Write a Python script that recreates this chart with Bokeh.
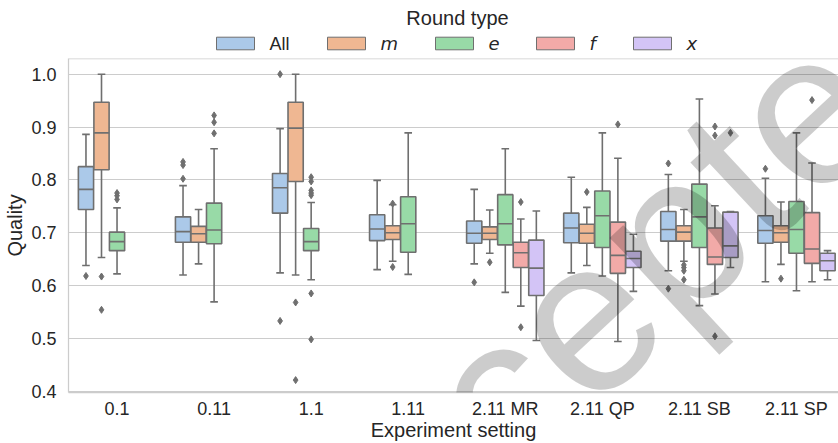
from bokeh.plotting import figure
from bokeh.layouts import column
from bokeh.models import Range1d, FixedTicker, Span, Label, ColumnDataSource, PrintfTickFormatter
from bokeh.core.properties import value
from bokeh.embed import file_html
from bokeh.resources import INLINE

# ---------------- data ----------------
categories = ["0.1", "0.11", "1.1", "1.11", "2.11 MR", "2.11 QP", "2.11 SB", "2.11 SP"]
round_types = ["All", "m", "e", "f", "x"]
N = None

whisker_low = [
    [0.638, 0.620, 0.624, 0.630, 0.641, 0.624, 0.628, 0.607],
    [0.653, 0.641, 0.620, 0.646, 0.661, 0.638, 0.646, 0.640],
    [0.622, 0.569, 0.611, 0.621, 0.587, 0.618, 0.562, 0.590],
    [N, N, N, N, 0.561, 0.494, 0.584, 0.607],
    [N, N, N, N, 0.496, 0.589, 0.634, 0.611],
]
q1 = [
    [0.744, 0.682, 0.737, 0.685, 0.680, 0.681, 0.684, 0.680],
    [0.819, 0.682, 0.797, 0.687, 0.687, 0.680, 0.684, 0.682],
    [0.666, 0.679, 0.666, 0.663, 0.677, 0.672, 0.672, 0.661],
    [N, N, N, N, 0.634, 0.623, 0.640, 0.642],
    [N, N, N, N, 0.581, 0.634, 0.653, 0.628],
]
median = [
    [0.782, 0.702, 0.785, 0.707, 0.699, 0.709, 0.706, 0.704],
    [0.889, 0.698, 0.898, 0.700, 0.699, 0.699, 0.701, 0.700],
    [0.683, 0.705, 0.683, 0.717, 0.717, 0.732, 0.730, 0.706],
    [N, N, N, N, 0.662, 0.657, 0.654, 0.669],
    [N, N, N, N, 0.633, 0.651, 0.675, 0.647],
]
q3 = [
    [0.825, 0.730, 0.812, 0.734, 0.722, 0.737, 0.740, 0.732],
    [0.947, 0.712, 0.947, 0.713, 0.711, 0.716, 0.713, 0.713],
    [0.701, 0.756, 0.708, 0.768, 0.772, 0.779, 0.792, 0.759],
    [N, N, N, N, 0.682, 0.720, 0.709, 0.738],
    [N, N, N, N, 0.686, 0.665, 0.739, 0.661],
]
whisker_high = [
    [0.886, 0.789, 0.897, 0.799, 0.782, 0.805, 0.810, 0.803],
    [1.000, 0.744, 1.000, 0.753, 0.743, 0.748, 0.744, 0.758],
    [0.747, 0.859, 0.757, 0.889, 0.859, 0.889, 0.953, 0.889],
    [N, N, N, N, 0.726, 0.841, 0.751, 0.832],
    [N, N, N, N, 0.741, 0.697, 0.740, 0.666],
]
outliers_all = [[0.618], [0.834, 0.828, 0.802], [1.000, 0.533], [], [0.606], [], [0.831, 0.594], [0.821]]
outliers_m = [[0.617, 0.554], [], [0.568, 0.421], [0.755, 0.635], [0.644], [0.777], [0.639, 0.634, 0.628, 0.611], [0.613]]
outliers_e = [[0.775, 0.770, 0.763], [0.922, 0.909, 0.888], [0.805, 0.797, 0.780, 0.775, 0.771, 0.585, 0.498], [], [], [], [], []]
outliers_f = [[], [], [], [], [0.758, 0.521], [0.905], [0.901, 0.884, 0.504], [0.951]]
outliers_x = [[], [], [], [], [], [], [0.889], []]
outliers = [outliers_all, outliers_m, outliers_e, outliers_f, outliers_x]

y_ticks = [0.4, 0.5, 0.6, 0.7, 0.8, 0.9, 1.0]

# ---------------- style ----------------
colors = ["#abc9e9", "#efb792", "#98daa7", "#f2aaa8", "#d3c4f6"]
gray = "#6f6f6f"
spine = "#cccccc"
txt = "#262626"
font = "Liberation Sans"
lw = 1.6

W, H = 838, 443
legend_h = 57
frame_left = 68
y_lo, y_hi = 0.3975, 1.0297
x_start, x_end = -0.5, 7.433

# ---------------- main plot ----------------
p = figure(width=W, height=H - legend_h, x_range=Range1d(x_start, x_end), y_range=Range1d(y_lo, y_hi),
           output_backend="svg", toolbar_location=None,
           min_border_left=frame_left, min_border_right=0, min_border_top=1, min_border_bottom=51)
p.outline_line_color = None
p.background_fill_color = "white"
p.border_fill_color = "white"
p.xgrid.visible = False
p.ygrid.grid_line_color = spine
p.ygrid.grid_line_width = 1
p.ygrid.ticker = FixedTicker(ticks=y_ticks)

p.yaxis.ticker = FixedTicker(ticks=y_ticks)
p.yaxis.formatter = PrintfTickFormatter(format="%.1f")
p.xaxis.ticker = FixedTicker(ticks=list(range(len(categories))))
p.xaxis.major_label_overrides = {i: c for i, c in enumerate(categories)}
for ax in (p.xaxis[0], p.yaxis[0]):
    ax.axis_line_color = spine
    ax.axis_line_width = 1.25
    ax.major_tick_line_color = None
    ax.minor_tick_line_color = None
    ax.major_label_text_font = font
    ax.major_label_text_font_size = "18px"
    ax.major_label_text_color = txt
    ax.axis_label_text_font = font
    ax.axis_label_text_font_size = "20px"
    ax.axis_label_text_font_style = "normal"
    ax.axis_label_text_color = txt
p.yaxis.major_label_standoff = 6
p.xaxis.major_label_standoff = 0
p.yaxis.axis_label = "Quality"
p.yaxis.axis_label_standoff = 2
p.xaxis.axis_label = "Experiment setting"
p.xaxis.axis_label_standoff = -3

p.add_layout(Span(location=y_hi, dimension="width", line_color=spine, line_width=1.25))

n_h = len(round_types)
group_w = 0.8
hue_w = group_w / n_h
box_w = hue_w * 0.98
cap_w = box_w * 0.5

for j, rt in enumerate(round_types):
    d = dict(x=[], lo=[], q1=[], med=[], q3=[], hi=[])
    ox, oy = [], []
    for i in range(len(categories)):
        if median[j][i] is None:
            continue
        x = i - group_w / 2 + hue_w * (j + 0.5)
        d["x"].append(x)
        d["lo"].append(whisker_low[j][i])
        d["q1"].append(q1[j][i])
        d["med"].append(median[j][i])
        d["q3"].append(q3[j][i])
        d["hi"].append(whisker_high[j][i])
        for v in outliers[j][i]:
            ox.append(x)
            oy.append(v)
    d["bl"] = [x - box_w / 2 for x in d["x"]]
    d["br"] = [x + box_w / 2 for x in d["x"]]
    d["cl"] = [x - cap_w / 2 for x in d["x"]]
    d["cr"] = [x + cap_w / 2 for x in d["x"]]
    src = ColumnDataSource(d)
    p.segment(x0="x", y0="q3", x1="x", y1="hi", source=src, line_color=gray, line_width=lw)
    p.segment(x0="x", y0="q1", x1="x", y1="lo", source=src, line_color=gray, line_width=lw)
    p.segment(x0="cl", y0="hi", x1="cr", y1="hi", source=src, line_color=gray, line_width=lw)
    p.segment(x0="cl", y0="lo", x1="cr", y1="lo", source=src, line_color=gray, line_width=lw)
    p.vbar(x="x", width=box_w, bottom="q1", top="q3", source=src,
           fill_color=colors[j], line_color=gray, line_width=lw)
    p.segment(x0="bl", y0="med", x1="br", y1="med", source=src, line_color=gray, line_width=lw)
    if ox:
        p.scatter(x=ox, y=oy, marker="diamond", size=7, fill_color=gray, line_color=gray)

# watermark
p.add_layout(Label(x=5.02, y=0.578, text="Accepted", angle=43, angle_units="deg",
                   text_font=font, text_font_size="218px", text_color="black", text_alpha=0.2,
                   text_align="center", text_baseline="alphabetic", level="overlay"))

# ---------------- legend (separate strip above; its frame aligns with the plot frame) ----------------
lg = figure(width=W, height=legend_h, x_range=Range1d(frame_left, W), y_range=Range1d(legend_h, 0),
            x_axis_type=None, y_axis_type=None, output_backend="svg", toolbar_location=None,
            min_border=0)
lg.outline_line_color = None
lg.background_fill_color = "white"
lg.border_fill_color = "white"

patch_w, patch_top, patch_bot, standoff, gap = 38, 36.7, 49.3, 15, 38
label_w = [20, 17, 10, 6, 9]
lefts = []
xcur = 216
for wlab in label_w:
    lefts.append(xcur)
    xcur += patch_w + standoff + wlab + gap
lg.quad(left=lefts, right=[l + patch_w for l in lefts], top=[patch_top] * n_h, bottom=[patch_bot] * n_h,
        fill_color=colors, line_color=gray, line_width=1)
lab_x = [l + patch_w + standoff for l in lefts]
lab_y = (patch_top + patch_bot) / 2
lg.text(x=lab_x[:1], y=[lab_y], text=round_types[:1], text_font=value(font), text_font_size="18px",
        text_color=txt, text_align="left", text_baseline="middle")
lg.text(x=lab_x[1:], y=[lab_y] * (n_h - 1), text=round_types[1:], text_font=value("DejaVu Sans"),
        text_font_style="italic", text_font_size="18px", text_color=txt, text_align="left", text_baseline="middle")
lg.text(x=[457], y=[17], text=["Round type"], text_font=value(font), text_font_size="20px",
        text_color=txt, text_align="center", text_baseline="middle")

layout = column(lg, p, spacing=0)
open("out.html", "w").write(file_html(layout, INLINE))
